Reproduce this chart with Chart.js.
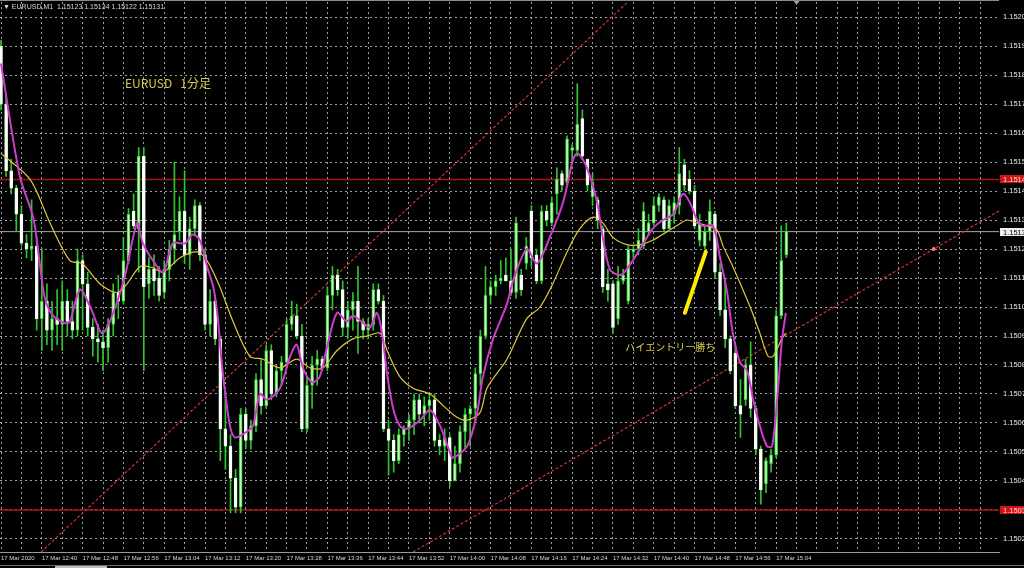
<!DOCTYPE html>
<html>
<head>
<meta charset="utf-8">
<script src="https://cdn.jsdelivr.net/npm/chart.js@4"></script>
<style>
html,body{margin:0;padding:0;background:#000;overflow:hidden}
#wrap{width:1024px;height:568px;position:relative}
canvas{display:block}
</style>
</head>
<body>
<div id="wrap"><canvas id="c" width="1024" height="568"></canvas></div>
<script>
// ---------- DATA ----------
const symbolName = 'EURUSD,M1';
const timeLabels = ['17 Mar 2020','17 Mar 12:40','17 Mar 12:48','17 Mar 12:56','17 Mar 13:04','17 Mar 13:12','17 Mar 13:20','17 Mar 13:28','17 Mar 13:36','17 Mar 13:44','17 Mar 13:52','17 Mar 14:00','17 Mar 14:08','17 Mar 14:16','17 Mar 14:24','17 Mar 14:32','17 Mar 14:40','17 Mar 14:48','17 Mar 14:56','17 Mar 15:04'];
const yTickValues = [1.15025,1.15035,1.15045,1.15055,1.15065,1.15075,1.15085,1.15095,1.15105,1.15115,1.15125,1.15135,1.15145,1.15155,1.15165,1.15175,1.15185,1.15195,1.15205];

const opens = [1.15195,1.15175,1.15152,1.15146,1.15137,1.15127,1.15125,1.15126,1.15101,1.15107,
1.15097,1.15101,1.15099,1.15107,1.15100,1.15097,1.15121,1.15113,1.15098,1.15094,
1.15093,1.15091,1.15099,1.15110,1.15107,1.15121,1.15138,1.15132,1.15157,1.15113,
1.15118,1.15115,1.15110,1.15118,1.15125,1.15131,1.15138,1.15123,1.15132,1.15140,
1.15123,1.15099,1.15107,1.15094,1.15063,1.15057,1.15046,1.15036,1.15068,1.15059,
1.15064,1.15080,1.15071,1.15090,1.15075,1.15083,1.15086,1.15099,1.15102,1.15095,
1.15063,1.15078,1.15085,1.15087,1.15084,1.15109,1.15116,1.15111,1.15098,1.15104,
1.15107,1.15100,1.15097,1.15099,1.15111,1.15107,1.15063,1.15059,1.15052,1.15061,
1.15063,1.15066,1.15073,1.15068,1.15071,1.15073,1.15059,1.15057,1.15060,1.15045,
1.15051,1.15062,1.15068,1.15070,1.15082,1.15095,1.15109,1.15112,1.15114,1.15116,
1.15114,1.15110,1.15116,1.15120,1.15138,1.15123,1.15114,1.15138,1.15134,1.15144,
1.15151,1.15148,1.15159,1.15159,1.15170,1.15156,1.15143,1.15142,1.15132,1.15113,
1.15113,1.15101,1.15114,1.15107,1.15124,1.15125,1.15126,1.15131,1.15134,1.15140,
1.15142,1.15132,1.15137,1.15140,1.15154,1.15149,1.15145,1.15128,1.15126,1.15131,
1.15137,1.15117,1.15104,1.15094,1.15089,1.15071,1.15073,1.15085,1.15070,1.15056,
1.15044,1.15051,1.15054,1.15102,1.15123];

const highs = [1.15197,1.15178,1.15156,1.15147,1.15140,1.15130,1.15142,1.15129,1.15125,1.15113,
1.15107,1.15111,1.15114,1.15111,1.15107,1.15125,1.15123,1.15117,1.15101,1.15099,
1.15097,1.15101,1.15113,1.15116,1.15129,1.15139,1.15144,1.15160,1.15160,1.15122,
1.15123,1.15119,1.15121,1.15128,1.15155,1.15143,1.15152,1.15136,1.15142,1.15141,
1.15125,1.15111,1.15109,1.15095,1.15076,1.15061,1.15049,1.15070,1.15070,1.15066,
1.15082,1.15087,1.15092,1.15092,1.15085,1.15088,1.15101,1.15107,1.15106,1.15099,
1.15081,1.15088,1.15090,1.15088,1.15112,1.15119,1.15118,1.15114,1.15107,1.15110,
1.15119,1.15101,1.15101,1.15113,1.15113,1.15109,1.15066,1.15061,1.15063,1.15064,
1.15068,1.15075,1.15075,1.15074,1.15075,1.15075,1.15061,1.15063,1.15061,1.15057,
1.15064,1.15070,1.15071,1.15084,1.15097,1.15119,1.15114,1.15116,1.15121,1.15122,
1.15125,1.15136,1.15118,1.15129,1.15140,1.15125,1.15140,1.15140,1.15143,1.15153,
1.15152,1.15164,1.15161,1.15182,1.15173,1.15156,1.15151,1.15143,1.15133,1.15118,
1.15114,1.15119,1.15118,1.15126,1.15126,1.15132,1.15141,1.15137,1.15143,1.15144,
1.15143,1.15142,1.15143,1.15160,1.15156,1.15152,1.15147,1.15137,1.15133,1.15142,
1.15138,1.15120,1.15115,1.15095,1.15092,1.15080,1.15087,1.15093,1.15071,1.15057,
1.15053,1.15056,1.15104,1.15133,1.15134];

const lows = [1.15173,1.15150,1.15144,1.15131,1.15126,1.15122,1.15121,1.15097,1.15090,1.15092,
1.15090,1.15092,1.15090,1.15095,1.15094,1.15095,1.15097,1.15095,1.15088,1.15086,
1.15083,1.15086,1.15095,1.15101,1.15106,1.15120,1.15132,1.15117,1.15083,1.15108,
1.15109,1.15107,1.15108,1.15114,1.15120,1.15128,1.15120,1.15118,1.15130,1.15121,
1.15097,1.15095,1.15092,1.15052,1.15049,1.15034,1.15034,1.15034,1.15056,1.15056,
1.15062,1.15068,1.15070,1.15073,1.15074,1.15078,1.15084,1.15097,1.15094,1.15062,
1.15062,1.15070,1.15078,1.15083,1.15083,1.15104,1.15109,1.15095,1.15094,1.15097,
1.15089,1.15094,1.15094,1.15097,1.15106,1.15062,1.15047,1.15048,1.15051,1.15057,
1.15059,1.15061,1.15065,1.15064,1.15066,1.15057,1.15054,1.15052,1.15043,1.15045,
1.15048,1.15056,1.15057,1.15066,1.15078,1.15094,1.15106,1.15109,1.15113,1.15114,
1.15109,1.15108,1.15109,1.15118,1.15119,1.15113,1.15113,1.15133,1.15133,1.15137,
1.15145,1.15147,1.15155,1.15157,1.15156,1.15145,1.15140,1.15132,1.15110,1.15107,
1.15096,1.15099,1.15113,1.15106,1.15122,1.15123,1.15125,1.15130,1.15133,1.15138,
1.15131,1.15132,1.15134,1.15137,1.15145,1.15144,1.15132,1.15126,1.15125,1.15128,
1.15115,1.15102,1.15091,1.15082,1.15070,1.15060,1.15071,1.15067,1.15054,1.15037,
1.15041,1.15048,1.15053,1.15101,1.15122];

const closes = [1.15175,1.15152,1.15146,1.15137,1.15127,1.15125,1.15126,1.15101,1.15107,1.15097,
1.15101,1.15099,1.15107,1.15100,1.15097,1.15121,1.15113,1.15098,1.15094,1.15093,
1.15091,1.15099,1.15110,1.15107,1.15121,1.15137,1.15133,1.15157,1.15112,1.15118,
1.15114,1.15109,1.15118,1.15125,1.15130,1.15138,1.15123,1.15132,1.15140,1.15123,
1.15099,1.15107,1.15094,1.15063,1.15057,1.15046,1.15036,1.15068,1.15059,1.15064,
1.15080,1.15071,1.15090,1.15075,1.15083,1.15086,1.15099,1.15102,1.15095,1.15063,
1.15078,1.15085,1.15087,1.15084,1.15109,1.15116,1.15111,1.15098,1.15104,1.15107,
1.15100,1.15097,1.15099,1.15111,1.15107,1.15063,1.15059,1.15052,1.15061,1.15063,
1.15066,1.15073,1.15068,1.15071,1.15073,1.15059,1.15057,1.15060,1.15045,1.15051,
1.15062,1.15068,1.15070,1.15082,1.15095,1.15109,1.15112,1.15114,1.15115,1.15114,
1.15110,1.15134,1.15111,1.15126,1.15122,1.15114,1.15138,1.15135,1.15141,1.15149,
1.15147,1.15163,1.15160,1.15168,1.15157,1.15147,1.15148,1.15135,1.15112,1.15111,
1.15098,1.15114,1.15116,1.15125,1.15125,1.15128,1.15138,1.15134,1.15140,1.15143,
1.15132,1.15140,1.15141,1.15151,1.15147,1.15145,1.15133,1.15134,1.15131,1.15138,
1.15117,1.15104,1.15094,1.15083,1.15071,1.15068,1.15085,1.15070,1.15056,1.15042,
1.15052,1.15054,1.15102,1.15121,1.15131];

// fast moving average (magenta), read at bar positions
const maFastAt = [0,3.7,6.3,7.6,8.6,10.2,12.5,13.5,15.5,17.5,20,23.9,26.7,27.8,29.8,31.8,33.7,36.1,37.6,39,40.4,41.6,42.4,43.5,44.9,45.9,48.2,49.4,50.8,52.2,54.7,56.7,58,59.2,61,62.5,63.9,65.9,67.8,69,71,72.4,73.7,74.7,75.7,76.9,78.2,79.6,82.2,84.1,86.1,88,88.6,91.4,93.3,94.5,96.5,99.2,100.4,103.1,105.1,107.6,110.2,112.2,113.1,114.9,116.9,118,119.4,121.4,122.7,125.3,127.8,129.8,131.8,133.7,135.1,136.5,137.6,139.6,141,142.4,143.5,144.9,146.3,147.5,148.8,150.2,151.2,152.2,153.1,153.9];
const maFastVal = [1.15189,1.15150,1.15136,1.15120,1.15108,1.15102,1.150995,1.15100,1.15111,1.15105,1.15096,1.15113,1.15134,1.15127,1.15121,1.15117,1.15127,1.15127,1.15130,1.15128,1.15119,1.15112,1.15103,1.15082,1.15064,1.15060,1.15062,1.15064,1.15075,1.15073,1.15077,1.15088,1.15092,1.15084,1.15079,1.15081,1.15091,1.15103,1.15100,1.15102,1.150995,1.15098,1.15103,1.15096,1.15082,1.15070,1.15064,1.15063,1.15066,1.150695,1.15064,1.15055,1.15053,1.15057,1.15068,1.15081,1.15094,1.15106,1.15114,1.15125,1.15120,1.15129,1.15141,1.15156,1.15158,1.15153,1.15141,1.15129,1.15118,1.15116,1.15118,1.15125,1.15132,1.15135,1.15137,1.15144,1.15141,1.15135,1.15133,1.15133,1.15122,1.15110,1.15096,1.15086,1.15083,1.15073,1.15064,1.15057,1.15057,1.15073,1.15093,1.15103];

// slow moving average (yellow)
const maSlowAt = [0,5.7,9.6,13.5,15.9,19.4,22.7,24.7,27.3,29.8,31.8,35.1,38.4,40.4,42.9,45.5,48.8,51.4,54.7,58,60.6,63.1,65.9,69,71.8,74.3,75.7,78.2,80.8,84.1,86.7,89.4,91.4,93.9,95.3,99.2,103.1,105.7,108.2,111,113.5,116.1,118,120,122.7,125.3,127.8,130.6,132.5,134.5,136.5,138.4,140.4,141.6,143.5,146.9,148.8,150.4,151.4,153.1,153.9];
const maSlowVal = [1.15158,1.15149,1.15134,1.15121,1.15120,1.15113,1.15110,1.15113,1.15119,1.151185,1.15117,1.15122,1.15124,1.15121,1.15112,1.15100,1.15088,1.15087,1.15084,1.15087,1.15084,1.15084,1.15090,1.15094,1.15095,1.15096,1.15090,1.15081,1.15077,1.15075,1.15071,1.15067,1.15066,1.150685,1.15077,1.15087,1.15101,1.15105,1.15113,1.15124,1.15132,1.15136,1.15134,1.15129,1.151265,1.151265,1.15128,1.15131,1.15133,1.15135,1.15134,1.15133,1.151315,1.15126,1.15119,1.15105,1.15096,1.15088,1.15088,1.15094,1.15096];

// horizontal levels and drawn objects
const resistance = 1.15149;
const support = 1.15035;
const lastPrice = 1.15131;
const trendUpperAt = [7.84, 122.9], trendUpperVal = [1.150205, 1.152102];
const trendLowerAt = [80.8, 195.7], trendLowerVal = [1.150205, 1.151381];
const strokeAt = [134.1, 138.2], strokeVal = [1.15103, 1.15124];
const anchorDotAt = [182.9], anchorDotVal = [1.15125];
const annotations = [
  {text: 'EURUSD   1分足', at: 24.3, price: 1.15182, size: 12},
  {text: 'ハイエントリー勝ち', at: 122.4, price: 1.15091, size: 10}
];

// ---------- AXIS RANGE ----------
const xMin = -0.2, xMax = 195.7;
const yMin = 1.150205, yMax = 1.152102;
const gridEvery = 4, labelEvery = 8;

// ---------- BUILD ----------
const wickData = lows.map((l, i) => ({x: i, y: [l, highs[i]]}));
const bodyData = opens.map((o, i) => ({x: i, y: [o, closes[i]]}));
const isBull = opens.map((o, i) => closes[i] >= o);
const pairs = (xs, ys) => xs.map((v, k) => ({x: v, y: ys[k]}));
const xGrid = [];
for (let v = 0; v <= xMax; v += gridEvery) xGrid.push(v);

const smallFont = "'Liberation Sans',Arial,sans-serif";

const overlay = {
  id: 'overlay',
  beforeDraw(chart) {
    const {ctx, width, height} = chart;
    ctx.save();
    ctx.fillStyle = '#000';
    ctx.fillRect(0, 0, width, height);
    ctx.restore();
  },
  afterDatasetsDraw(chart) {
    const {ctx, scales: {x, y}} = chart;
    ctx.save();
    ctx.fillStyle = '#d6ca4e';
    ctx.textAlign = 'left';
    ctx.textBaseline = 'middle';
    annotations.forEach(a => {
      ctx.font = a.size + "px 'Noto Sans CJK JP', sans-serif";
      ctx.fillText(a.text, x.getPixelForValue(a.at), y.getPixelForValue(a.price));
    });
    ctx.restore();
  },
  afterDraw(chart) {
    const {ctx, chartArea, scales: {x, y}, width, height} = chart;
    ctx.save();
    // window frame lines
    ctx.fillStyle = '#8a8a8a';
    ctx.fillRect(0, 0, chartArea.right, 1);
    ctx.fillStyle = '#6a6a6a';
    ctx.fillRect(0, height - 3, width, 1);
    ctx.fillStyle = '#bdbdbd';
    ctx.fillRect(55, height - 2, 52, 2);
    // header
    const n = opens.length - 1;
    ctx.font = "7px " + smallFont;
    ctx.fillStyle = '#d8d8d8';
    ctx.textBaseline = 'middle';
    ctx.textAlign = 'left';
    ctx.fillText('▼ ' + symbolName + '  ' + [opens[n], highs[n], lows[n], closes[n]].map(v => v.toFixed(5)).join(' '), 3, 7);
    // chart-shift marker
    const sx = x.getPixelForValue(156);
    ctx.fillStyle = '#9a9a9a';
    ctx.beginPath(); ctx.moveTo(sx - 3, 1); ctx.lineTo(sx + 3, 1); ctx.lineTo(sx, 5); ctx.closePath(); ctx.fill();
    // price boxes on the axis
    const box = (price, bg, fg) => {
      const py = Math.round(y.getPixelForValue(price));
      ctx.fillStyle = bg;
      ctx.fillRect(chartArea.right + 1, py - 4, width - chartArea.right, 8);
      ctx.fillStyle = fg;
      ctx.font = "7.5px " + smallFont;
      ctx.textBaseline = 'middle';
      ctx.fillText(price.toFixed(5), chartArea.right + 4, py + 0.5);
    };
    box(resistance, '#d01414', '#ffd8d8');
    box(support, '#d01414', '#ffd8d8');
    box(lastPrice, '#eeeeee', '#000000');
    ctx.restore();
  }
};

new Chart(document.getElementById('c'), {
  type: 'bar',
  data: {
    datasets: [
      {type: 'line', data: pairs(strokeAt, strokeVal), borderColor: '#ffea00', borderWidth: 4, pointRadius: 0, pointHoverRadius: 0, borderCapStyle: 'round', order: 0},
      {type: 'line', data: pairs(anchorDotAt, anchorDotVal), showLine: false, pointRadius: 2, pointHoverRadius: 0, pointBackgroundColor: '#ff7a7a', pointBorderWidth: 0, order: 0},
      {type: 'line', data: pairs(maFastAt, maFastVal), borderColor: '#cf3acf', borderWidth: 2, pointRadius: 0, pointHoverRadius: 0, tension: 0.3, order: 1},
      {type: 'line', data: pairs(maSlowAt, maSlowVal), borderColor: '#e2c83e', borderWidth: 1.2, pointRadius: 0, pointHoverRadius: 0, tension: 0.3, order: 2},
      {type: 'bar', data: bodyData, backgroundColor: isBull.map(b => b ? '#c6f7bf' : '#ffffff'), borderColor: isBull.map(b => b ? '#34cf34' : '#e6ffe6'), borderWidth: 1, borderSkipped: false, barThickness: 3, minBarLength: 1, grouped: false, order: 3},
      {type: 'bar', data: wickData, backgroundColor: '#30c430', barThickness: 1, grouped: false, order: 4},
      {type: 'line', data: pairs(trendUpperAt, trendUpperVal), borderColor: '#c83434', borderWidth: 1.2, borderDash: [3, 2], pointRadius: 0, pointHoverRadius: 0, order: 5},
      {type: 'line', data: pairs(trendLowerAt, trendLowerVal), borderColor: '#c83434', borderWidth: 1.2, borderDash: [3, 2], pointRadius: 0, pointHoverRadius: 0, order: 5},
      {type: 'line', data: [{x: xMin, y: resistance}, {x: xMax, y: resistance}], borderColor: '#a81414', borderWidth: 1.6, pointRadius: 0, pointHoverRadius: 0, order: 6},
      {type: 'line', data: [{x: xMin, y: support}, {x: xMax, y: support}], borderColor: '#a81414', borderWidth: 1.6, pointRadius: 0, pointHoverRadius: 0, order: 6},
      {type: 'line', data: [{x: xMin, y: lastPrice}, {x: xMax, y: lastPrice}], borderColor: '#a8a8a8', borderWidth: 1, pointRadius: 0, pointHoverRadius: 0, order: 6}
    ]
  },
  options: {
    responsive: false,
    animation: false,
    devicePixelRatio: 1,
    layout: {autoPadding: false, padding: {top: 2, left: 0, right: 0, bottom: 0}},
    plugins: {legend: {display: false}, tooltip: {enabled: false}, title: {display: false}},
    events: [],
    scales: {
      x: {
        type: 'linear', min: xMin, max: xMax, offset: false,
        grid: {color: 'rgba(200,200,200,0.8)', lineWidth: 1, drawTicks: false, offset: false},
        border: {display: true, color: '#9a9a9a', width: 1, dash: [2, 3]},
        ticks: {
          autoSkip: false, maxRotation: 0, minRotation: 0, align: 'start', padding: 3,
          color: '#d4d4d4', font: {family: smallFont, size: 6},
          callback: v => (v % labelEvery === 0 && v / labelEvery < timeLabels.length) ? timeLabels[v / labelEvery] : ''
        },
        afterBuildTicks: s => { s.ticks = xGrid.map(v => ({value: v})); },
        afterFit: s => { s.height = 16; s.paddingLeft = 0; s.paddingRight = 0; }
      },
      y: {
        type: 'linear', position: 'right', min: yMin, max: yMax, beginAtZero: false,
        grid: {color: 'rgba(200,200,200,0.8)', lineWidth: 1, drawTicks: false},
        border: {display: false, dash: [2, 3]},
        ticks: {autoSkip: false, padding: 4, color: '#e8e8e8', font: {family: smallFont, size: 7.5}, callback: v => Number(v).toFixed(5)},
        afterBuildTicks: s => { s.ticks = yTickValues.map(v => ({value: v})); },
        afterFit: s => { s.width = 25; s.paddingTop = 0; s.paddingBottom = 0; }
      }
    }
  },
  plugins: [overlay]
});
</script>
</body>
</html>
